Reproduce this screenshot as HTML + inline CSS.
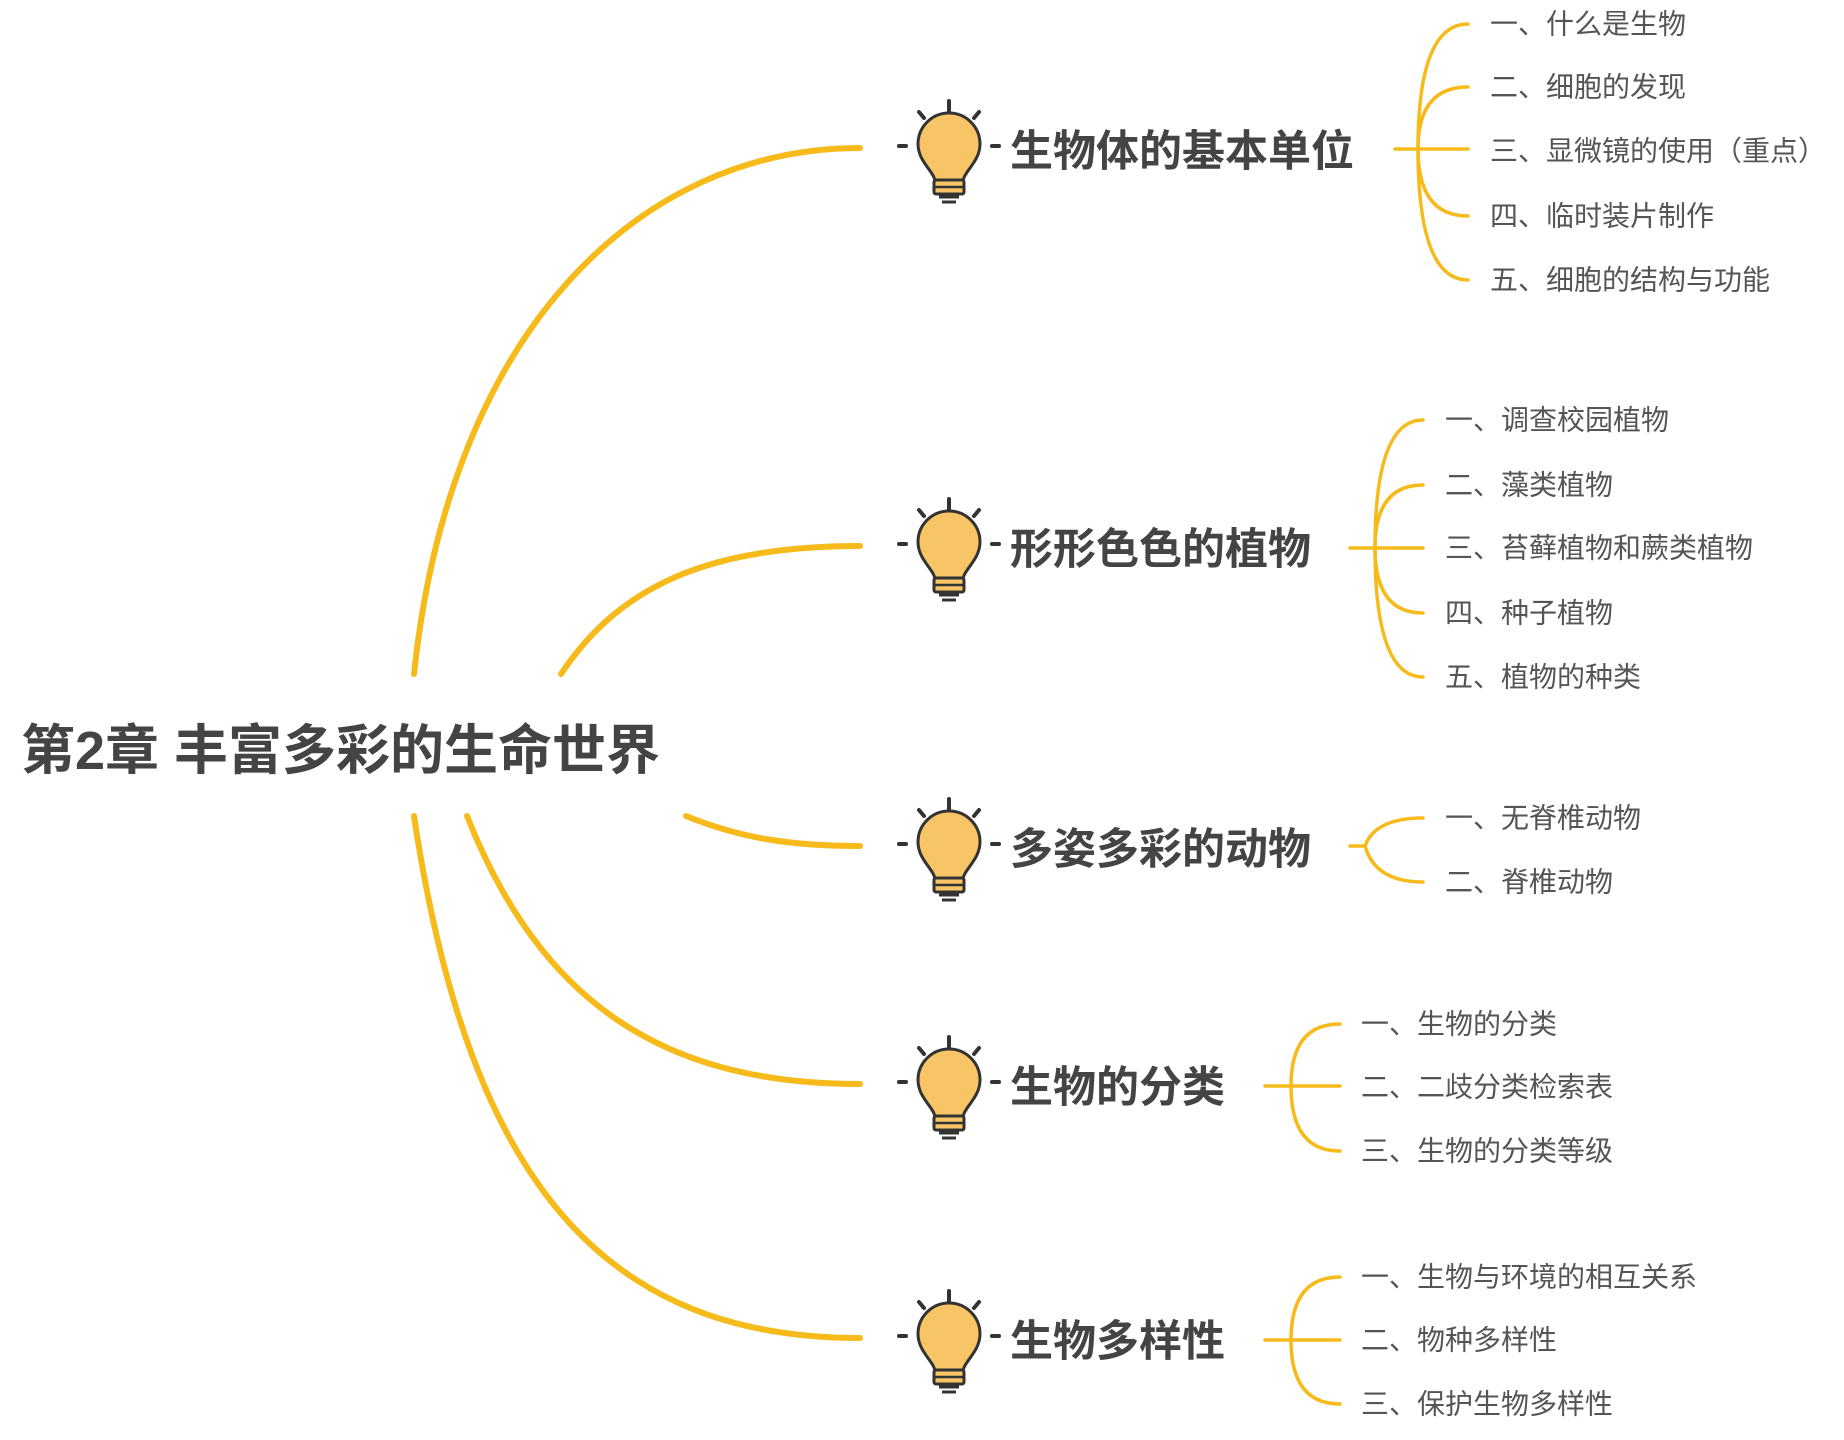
<!DOCTYPE html>
<html><head><meta charset="utf-8"><style>
html,body{margin:0;padding:0;background:#fff;}
svg{display:block;}
text{font-family:"Liberation Sans","Noto Sans CJK SC",sans-serif;fill:#444;}
.main{font-size:43px;font-weight:bold;}
.sub{font-size:28px;fill:#555;}
.br{fill:none;stroke:#f6bb1a;stroke-linecap:round;}
</style></head><body>
<svg width="1844" height="1440" viewBox="0 0 1844 1440" xmlns="http://www.w3.org/2000/svg">
<defs>
<g id="bulb">
  <g stroke="#333" stroke-width="4" stroke-linecap="round">
    <line x1="0" y1="-45" x2="0" y2="-35"/>
    <line x1="-30" y1="-34" x2="-25" y2="-28"/>
    <line x1="30" y1="-34" x2="25" y2="-28"/>
    <line x1="-50" y1="0" x2="-43" y2="0"/>
    <line x1="43" y1="0" x2="50" y2="0"/>
  </g>
  <path d="M-14,36 C-14,26 -31,16 -31,-2 A31,31 0 1 1 31,-2 C31,16 14,26 14,36 Z" fill="#f8c566" stroke="#333" stroke-width="3"/>
  <rect x="-15" y="34" width="30" height="14" rx="2" fill="#f8c566" stroke="#333" stroke-width="3"/>
  <line x1="-14" y1="41" x2="14" y2="41" stroke="#333" stroke-width="2.5"/>
  <line x1="-10" y1="51" x2="10" y2="51" stroke="#333" stroke-width="3"/>
  <line x1="-7" y1="56" x2="7" y2="56" stroke="#333" stroke-width="3"/>
</g>
</defs>

<g class="br" stroke-width="6">
  <path d="M414,674 C450,330 640,148 860,148"/>
  <path d="M561,674 C620,585 710,546 860,546"/>
  <path d="M686,816 C740,838 790,846 860,846"/>
  <path d="M467,816 C540,1000 660,1084 860,1084"/>
  <path d="M414,816 C470,1190 610,1338 860,1338"/>
</g>

<text x="21" y="751" class="main" style="font-size:54px" dominant-baseline="central">第2章 丰富多彩的生命世界</text>

<use href="#bulb" x="949" y="146"/>
<use href="#bulb" x="949" y="544"/>
<use href="#bulb" x="949" y="844"/>
<use href="#bulb" x="949" y="1082"/>
<use href="#bulb" x="949" y="1336"/>

<text x="1010" y="152" class="main" dominant-baseline="central">生物体的基本单位</text>
<text x="1010" y="550" class="main" dominant-baseline="central">形形色色的植物</text>
<text x="1010" y="850" class="main" dominant-baseline="central">多姿多彩的动物</text>
<text x="1010" y="1088" class="main" dominant-baseline="central">生物的分类</text>
<text x="1010" y="1342" class="main" dominant-baseline="central">生物多样性</text>

<g class="br" stroke-width="3.5">
  <path d="M1395,149 H1468"/>
  <path d="M1418,149 Q1418,24 1468,24"/>
  <path d="M1418,149 Q1418,87 1468,87"/>
  <path d="M1418,149 Q1418,216 1468,216"/>
  <path d="M1418,149 Q1418,280 1468,280"/>

  <path d="M1350,548 H1423"/>
  <path d="M1375,548 Q1375,420 1423,420"/>
  <path d="M1375,548 Q1375,485 1423,485"/>
  <path d="M1375,548 Q1375,613 1423,613"/>
  <path d="M1375,548 Q1375,677 1423,677"/>

  <path d="M1350,846 H1365"/>
  <path d="M1365,846 Q1375,818 1423,818"/>
  <path d="M1365,846 Q1375,882 1423,882"/>

  <path d="M1265,1086 H1340"/>
  <path d="M1291,1086 Q1291,1024 1340,1024"/>
  <path d="M1291,1086 Q1291,1151 1340,1151"/>

  <path d="M1265,1340 H1340"/>
  <path d="M1291,1340 Q1291,1277 1340,1277"/>
  <path d="M1291,1340 Q1291,1404 1340,1404"/>
</g>

<g>
  <text x="1490" y="24" class="sub" dominant-baseline="central">一、什么是生物</text>
  <text x="1490" y="87" class="sub" dominant-baseline="central">二、细胞的发现</text>
  <text x="1490" y="151" class="sub" dominant-baseline="central">三、显微镜的使用（重点）</text>
  <text x="1490" y="216" class="sub" dominant-baseline="central">四、临时装片制作</text>
  <text x="1490" y="280" class="sub" dominant-baseline="central">五、细胞的结构与功能</text>

  <text x="1445" y="420" class="sub" dominant-baseline="central">一、调查校园植物</text>
  <text x="1445" y="485" class="sub" dominant-baseline="central">二、藻类植物</text>
  <text x="1445" y="548" class="sub" dominant-baseline="central">三、苔藓植物和蕨类植物</text>
  <text x="1445" y="613" class="sub" dominant-baseline="central">四、种子植物</text>
  <text x="1445" y="677" class="sub" dominant-baseline="central">五、植物的种类</text>

  <text x="1445" y="818" class="sub" dominant-baseline="central">一、无脊椎动物</text>
  <text x="1445" y="882" class="sub" dominant-baseline="central">二、脊椎动物</text>

  <text x="1361" y="1024" class="sub" dominant-baseline="central">一、生物的分类</text>
  <text x="1361" y="1087" class="sub" dominant-baseline="central">二、二歧分类检索表</text>
  <text x="1361" y="1151" class="sub" dominant-baseline="central">三、生物的分类等级</text>

  <text x="1361" y="1277" class="sub" dominant-baseline="central">一、生物与环境的相互关系</text>
  <text x="1361" y="1340" class="sub" dominant-baseline="central">二、物种多样性</text>
  <text x="1361" y="1404" class="sub" dominant-baseline="central">三、保护生物多样性</text>
</g>
</svg>
</body></html>
